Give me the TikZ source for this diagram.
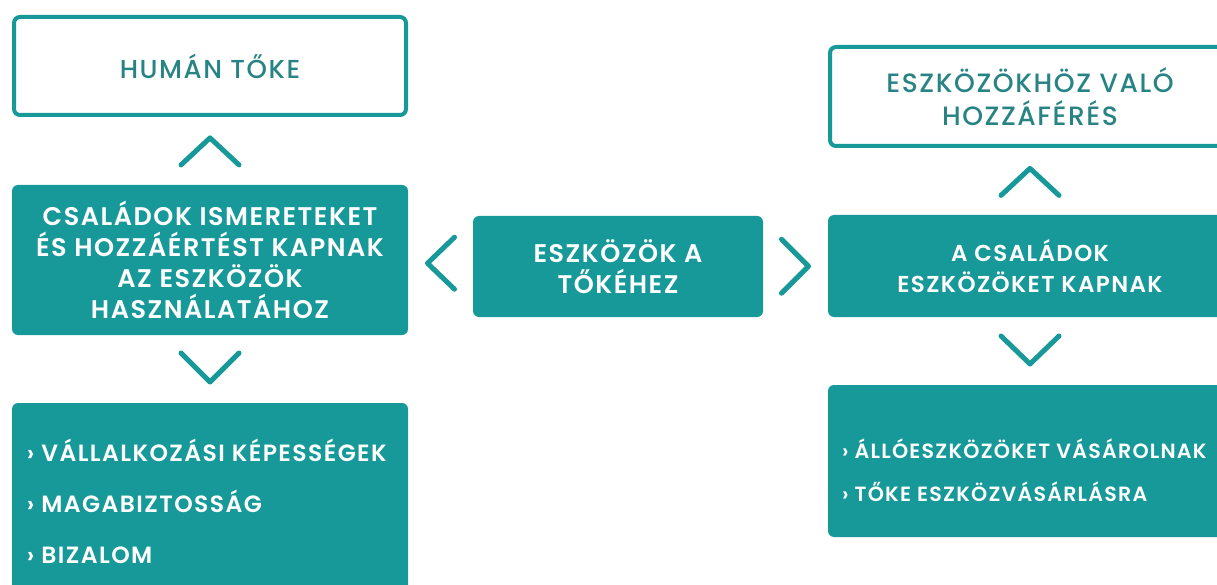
\documentclass[tikz,border=0pt]{standalone}
\usepackage{fontspec}
\setmainfont{Poppins}[UprightFont=* Medium, BoldFont=* SemiBold, LetterSpace=6]
\usetikzlibrary{calc}
\definecolor{teal1}{RGB}{24,153,153}
\definecolor{tealtext}{RGB}{40,132,132}
\newcommand{\fsz}[2]{\fontsize{#1}{#2}\selectfont}
\tikzset{
  box/.style={rectangle, rounded corners=6pt, inner sep=0pt, align=center},
  fillbox/.style={box, fill=teal1, text=white, font=\bfseries\fsz{25.5}{31}},
  outbox/.style={box, draw=teal1, line width=4pt, fill=white, text=tealtext, font=\fsz{26}{33}},
  listtext/.style={inner sep=0pt, align=left, text=white, anchor=west, font=\bfseries\fsz{23.5}{51}},
  chev/.style={draw=teal1, line width=5pt, line cap=round, line join=round},
}
\begin{document}
\begin{tikzpicture}[x=1pt,y=-1pt]
\useasboundingbox[fill=white] (0,0) rectangle (1217,585);
\clip (0,0) rectangle (1217,585);
% left column
\node[outbox, minimum width=392, minimum height=98] (human) at (210,66) {HUMÁN TŐKE};
\node[fillbox, minimum width=396, minimum height=150] (csal) at (210,260)
  {CSALÁDOK ISMERETEKET\\ÉS HOZZÁÉRTÉST KAPNAK\\AZ ESZKÖZÖK\\HASZNÁLATÁHOZ};
\node[fillbox, minimum width=396, minimum height=197] (bl) at (210,501.5) {};
\node[listtext] (bllist) at ($(bl.west)+(15,0)$)
  {› VÁLLALKOZÁSI KÉPESSÉGEK\\› MAGABIZTOSSÁG\\› BIZALOM};
% center
\node[fillbox, minimum width=290, minimum height=101] (mid) at (618,266.5) {ESZKÖZÖK A\\TŐKÉHEZ};
% right column
\node[outbox, font=\fsz{26.5}{33}, minimum width=400, minimum height=99] (rtop) at (1030,96.5) {ESZKÖZÖKHÖZ VALÓ\\HOZZÁFÉRÉS};
\node[fillbox, font=\bfseries\fsz{23}{31}, minimum width=404, minimum height=102] (rmid) at (1030,266) {A CSALÁDOK\\ESZKÖZÖKET KAPNAK};
\node[fillbox, minimum width=404, minimum height=152] (rbot) at (1030,461) {};
\node[listtext, font=\bfseries\fsz{20.6}{43}] (rblist) at ($(rbot.west)+(14,9)$)
  {› ÁLLÓESZKÖZÖKET VÁSÁROLNAK\\› TŐKE ESZKÖZVÁSÁRLÁSRA};
% chevrons
\coordinate (c1) at ($(human.south)!0.5!(csal.north)$);
\draw[chev] ($(c1)+(-29,14)$) -- ($(c1)+(0,-13)$) -- ($(c1)+(29,14)$);
\coordinate (c2) at ($(csal.south)!0.5!(bl.north)$);
\draw[chev] ($(c2)+(-29,-16)$) -- ($(c2)+(0,13)$) -- ($(c2)+(29,-16)$);
\coordinate (c3) at ($(csal.east)!0.5!(mid.west)$);
\draw[chev] ($(c3)+(14,-26)$) -- ($(c3)+(-13,0)$) -- ($(c3)+(14,26)$);
\coordinate (c4) at ($(mid.east)!0.5!(rmid.west)$);
\draw[chev] ($(c4)+(-14,-27)$) -- ($(c4)+(13,0)$) -- ($(c4)+(-14,27)$);
\coordinate (c5) at ($(rtop.south)!0.5!(rmid.north)$);
\draw[chev] ($(c5)+(-29,14)$) -- ($(c5)+(0,-13)$) -- ($(c5)+(29,14)$);
\coordinate (c6) at ($(rmid.south)!0.5!(rbot.north)$);
\draw[chev] ($(c6)+(-29,-15)$) -- ($(c6)+(0,13)$) -- ($(c6)+(29,-15)$);
\end{tikzpicture}
\end{document}
